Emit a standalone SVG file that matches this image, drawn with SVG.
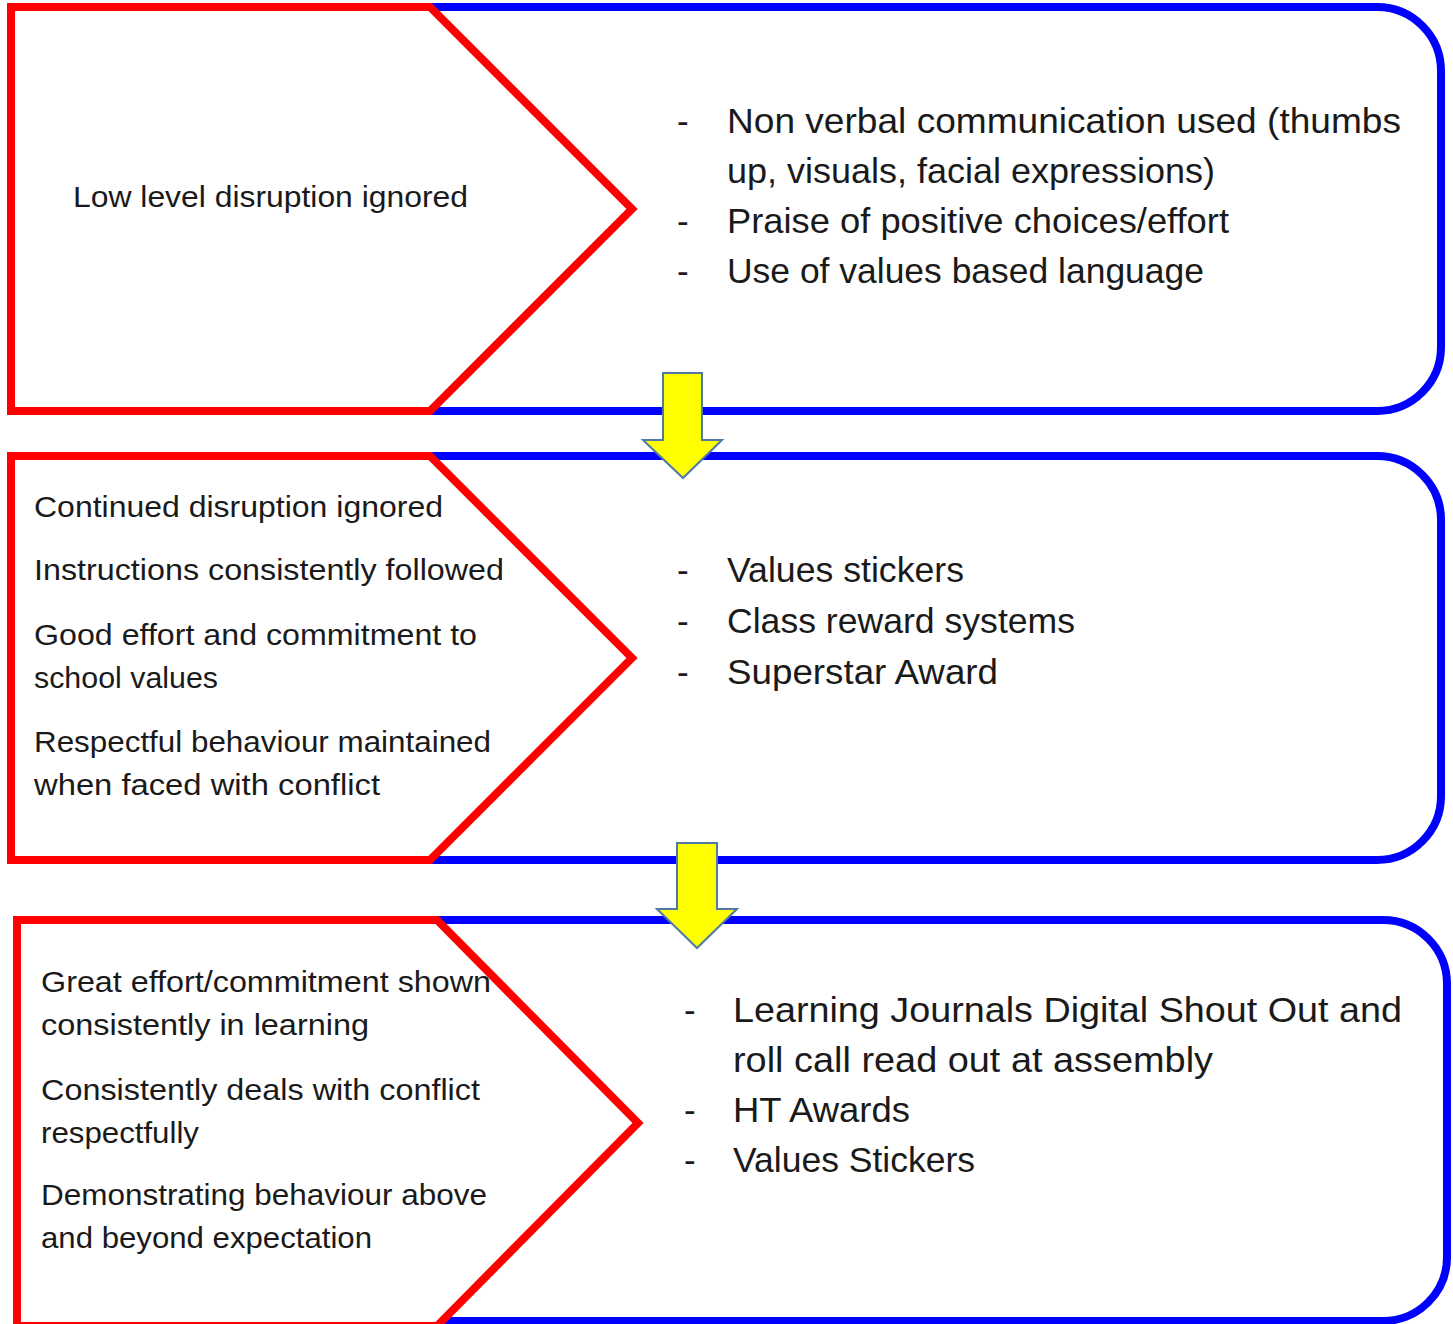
<svg xmlns="http://www.w3.org/2000/svg" width="1453" height="1324" viewBox="0 0 1453 1324">
  <style>
    .frame { fill: none; stroke: #0000FF; stroke-width: 8; }
    .tag { fill: #FFFFFF; stroke: #FF0000; stroke-width: 8; stroke-linejoin: miter; }
    .flow { fill: #FFFF00; stroke: #4F7AA6; stroke-width: 2; }
    .lt { font-family: "Liberation Sans", "DejaVu Sans", sans-serif; font-size: 30px; fill: #1A1A1A; }
    .rt { font-family: "Liberation Sans", "DejaVu Sans", sans-serif; font-size: 35px; fill: #1A1A1A; }
  </style>
  <rect width="1453" height="1324" fill="#FFFFFF"/>

  <!-- Stage 1 -->
  <g id="stage1">
    <path class="frame" d="M430,7 H1377 A64,64 0 0 1 1441,71 V347 A64,64 0 0 1 1377,411 H430"/>
    <path class="tag" d="M11,7 H430 L632,209 L430,411 H11 Z"/>
    <text class="lt" x="73" y="207" textLength="395" lengthAdjust="spacingAndGlyphs">Low level disruption ignored</text>
    <g class="rt">
      <text x="677" y="133">-</text>
      <text x="727" y="133" textLength="674" lengthAdjust="spacingAndGlyphs">Non verbal communication used (thumbs</text>
      <text x="727" y="183" textLength="488" lengthAdjust="spacingAndGlyphs">up, visuals, facial expressions)</text>
      <text x="677" y="233">-</text>
      <text x="727" y="233" textLength="502" lengthAdjust="spacingAndGlyphs">Praise of positive choices/effort</text>
      <text x="677" y="283">-</text>
      <text x="727" y="283" textLength="477" lengthAdjust="spacingAndGlyphs">Use of values based language</text>
    </g>
  </g>

  <!-- Stage 2 -->
  <g id="stage2">
    <path class="frame" d="M430,456 H1377 A64,64 0 0 1 1441,520 V796 A64,64 0 0 1 1377,860 H430"/>
    <path class="tag" d="M11,456 H430 L632,658 L430,860 H11 Z"/>
    <g class="lt">
      <text x="34" y="517" textLength="409" lengthAdjust="spacingAndGlyphs">Continued disruption ignored</text>
      <text x="34" y="580" textLength="470" lengthAdjust="spacingAndGlyphs">Instructions consistently followed</text>
      <text x="34" y="645" textLength="443" lengthAdjust="spacingAndGlyphs">Good effort and commitment to</text>
      <text x="34" y="688" textLength="184" lengthAdjust="spacingAndGlyphs">school values</text>
      <text x="34" y="752" textLength="457" lengthAdjust="spacingAndGlyphs">Respectful behaviour maintained</text>
      <text x="34" y="795" textLength="346" lengthAdjust="spacingAndGlyphs">when faced with conflict</text>
    </g>
    <g class="rt">
      <text x="677" y="582">-</text>
      <text x="727" y="582" textLength="237" lengthAdjust="spacingAndGlyphs">Values stickers</text>
      <text x="677" y="633">-</text>
      <text x="727" y="633" textLength="348" lengthAdjust="spacingAndGlyphs">Class reward systems</text>
      <text x="677" y="684">-</text>
      <text x="727" y="684" textLength="271" lengthAdjust="spacingAndGlyphs">Superstar Award</text>
    </g>
  </g>

  <!-- Stage 3 -->
  <g id="stage3">
    <path class="frame" d="M437,920 H1383 A64,64 0 0 1 1447,984 V1257 A64,64 0 0 1 1383,1321 H437"/>
    <path class="tag" d="M17,920 H437 L638,1123 L437,1326 H17 Z"/>
    <g class="lt">
      <text x="41" y="992" textLength="450" lengthAdjust="spacingAndGlyphs">Great effort/commitment shown</text>
      <text x="41" y="1035" textLength="328" lengthAdjust="spacingAndGlyphs">consistently in learning</text>
      <text x="41" y="1100" textLength="439" lengthAdjust="spacingAndGlyphs">Consistently deals with conflict</text>
      <text x="41" y="1143" textLength="158" lengthAdjust="spacingAndGlyphs">respectfully</text>
      <text x="41" y="1205" textLength="446" lengthAdjust="spacingAndGlyphs">Demonstrating behaviour above</text>
      <text x="41" y="1248" textLength="331" lengthAdjust="spacingAndGlyphs">and beyond expectation</text>
    </g>
    <g class="rt">
      <text x="684" y="1022">-</text>
      <text x="733" y="1022" textLength="669" lengthAdjust="spacingAndGlyphs">Learning Journals Digital Shout Out and</text>
      <text x="733" y="1072" textLength="480" lengthAdjust="spacingAndGlyphs">roll call read out at assembly</text>
      <text x="684" y="1122">-</text>
      <text x="733" y="1122" textLength="177" lengthAdjust="spacingAndGlyphs">HT Awards</text>
      <text x="684" y="1172">-</text>
      <text x="733" y="1172" textLength="242" lengthAdjust="spacingAndGlyphs">Values Stickers</text>
    </g>
  </g>

  <!-- Block arrows between stages -->
  <g id="connectors">
    <polygon class="flow" points="663,373 702,373 702,440 722,440 683,478 643,440 663,440"/>
    <polygon class="flow" points="677,843 717,843 717,909 737,909 697,948 657,909 677,909"/>
  </g>
</svg>
